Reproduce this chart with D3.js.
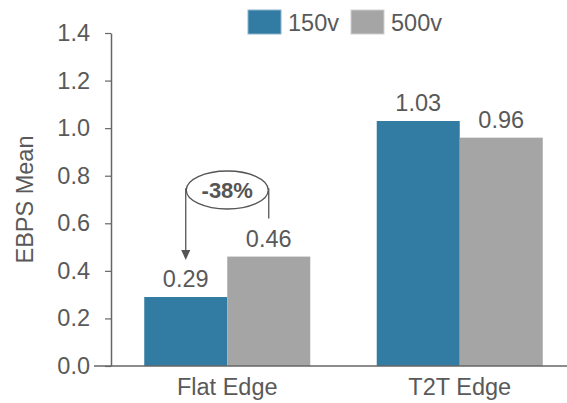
<!DOCTYPE html>
<html>
<head>
<meta charset="utf-8">
<script src="https://cdn.jsdelivr.net/npm/d3@7"></script>
<style>
  html, body { margin: 0; padding: 0; background: #fff; }
  svg { display: block; font-family: "Liberation Sans", Arial, sans-serif; }
</style>
</head>
<body>
<svg id="chart" width="567" height="403"></svg>
<script>
// EBPS mean by edge type and voltage
const categories = ["Flat Edge", "T2T Edge"];
const seriesNames = ["150v", "500v"];
const values150v = [0.29, 1.03];
const values500v = [0.46, 0.96];
const valueLabels150v = ["0.29", "1.03"];
const valueLabels500v = ["0.46", "0.96"];
const yTicks = [0, 0.2, 0.4, 0.6, 0.8, 1.0, 1.2, 1.4];
const changeLabel = "-38%";
const yTitle = "EBPS Mean";

const colors = { "150v": "#327ba2", "500v": "#a5a5a5" };
const textColor = "#595959";
const fs = 23.5;

const svg = d3.select("#chart");
const plotLeft = 111, plotRight = 576, plotTop = 33, plotBottom = 366;

const x = d3.scaleBand().domain(categories).range([plotLeft, plotRight])
  .paddingInner(0.286).paddingOuter(0.143);
const xs = d3.scaleBand().domain(seriesNames).range([0, x.bandwidth()]);
const y = d3.scaleLinear().domain([0, 1.4]).range([plotBottom, plotTop]);

const rows = categories.map((c, i) => ({
  cat: c,
  bars: [
    { s: "150v", v: values150v[i], label: valueLabels150v[i] },
    { s: "500v", v: values500v[i], label: valueLabels500v[i] }
  ]
}));

// bars
const groups = svg.append("g").selectAll("g").data(rows).join("g")
  .attr("transform", d => `translate(${x(d.cat)},0)`);
groups.selectAll("rect").data(d => d.bars).join("rect")
  .attr("x", d => xs(d.s))
  .attr("width", xs.bandwidth())
  .attr("y", d => y(d.v))
  .attr("height", d => y(0) - y(d.v))
  .attr("fill", d => colors[d.s]);

// value labels
groups.selectAll("text").data(d => d.bars).join("text")
  .attr("x", d => xs(d.s) + xs.bandwidth() / 2)
  .attr("y", d => y(d.v) - 10)
  .attr("text-anchor", "middle")
  .attr("font-size", fs)
  .attr("fill", textColor)
  .text(d => d.label);

// y axis
const yAxis = svg.append("g").attr("transform", `translate(${plotLeft},0)`)
  .call(d3.axisLeft(y).tickValues(yTicks).tickFormat(d3.format(".1f")).tickSize(6).tickSizeOuter(0));
yAxis.select(".domain").attr("stroke", "#666").attr("stroke-width", 1.5);
yAxis.selectAll(".tick line").attr("stroke", "#666").attr("stroke-width", 1.2);
yAxis.selectAll(".tick text").attr("font-size", fs).attr("fill", textColor)
  .attr("font-family", "Liberation Sans, Arial, sans-serif").attr("x", -21);

// baseline
svg.append("line").attr("x1", plotLeft - 17).attr("x2", 567)
  .attr("y1", y(0)).attr("y2", y(0)).attr("stroke", "#666").attr("stroke-width", 1.5);

// category labels
svg.append("g").selectAll("text").data(categories).join("text")
  .attr("x", d => x(d) + x.bandwidth() / 2)
  .attr("y", 395)
  .attr("text-anchor", "middle")
  .attr("font-size", fs)
  .attr("fill", textColor)
  .text(d => d);

// y title
svg.append("text")
  .attr("transform", `translate(33,${(plotTop + plotBottom) / 2}) rotate(-90)`)
  .attr("text-anchor", "middle")
  .attr("font-size", fs)
  .attr("fill", textColor)
  .text(yTitle);

// legend
const legend = svg.append("g").selectAll("g").data(seriesNames).join("g")
  .attr("transform", (d, i) => `translate(${248 + i * 103},10)`);
legend.append("rect").attr("width", 33).attr("height", 24)
  .attr("fill", d => colors[d])
  .attr("stroke", d => d === "150v" ? "#8ab4cc" : "#cfcfcf").attr("stroke-width", 1);
legend.append("text").attr("x", 40).attr("y", 21)
  .attr("font-size", fs).attr("fill", textColor).text(d => d);

// change annotation between the Flat Edge bars
const flatX = x("Flat Edge");
const xa = flatX + xs("150v") + xs.bandwidth() / 2;
const xb = flatX + xs("500v") + xs.bandwidth() / 2;
const cy = 190, rx = 41, ry = 19;
const cx = (xa + xb) / 2;
const ann = svg.append("g").attr("stroke", "#555").attr("fill", "none").attr("stroke-width", 1.3);
ann.append("path").attr("d", `M${cx - rx + 2},${cy - 1} L${xa},${cy - 1} L${xa},${y(values150v[0]) - 45}`);
ann.append("path").attr("d", `M${cx + rx - 2},${cy - 1} L${xb},${cy - 1} L${xb},${y(values500v[0]) - 38}`);
svg.append("path")
  .attr("d", `M${xa - 4.5},${y(values150v[0]) - 47} L${xa + 4.5},${y(values150v[0]) - 47} L${xa},${y(values150v[0]) - 37} Z`)
  .attr("fill", "#555");
ann.append("ellipse").attr("cx", cx).attr("cy", cy).attr("rx", rx).attr("ry", ry)
  .attr("fill", "#fff");
svg.append("text").attr("x", cx).attr("y", cy + 8)
  .attr("text-anchor", "middle").attr("font-size", 22).attr("font-weight", "bold")
  .attr("fill", "#555").text(changeLabel);
</script>
</body>
</html>
